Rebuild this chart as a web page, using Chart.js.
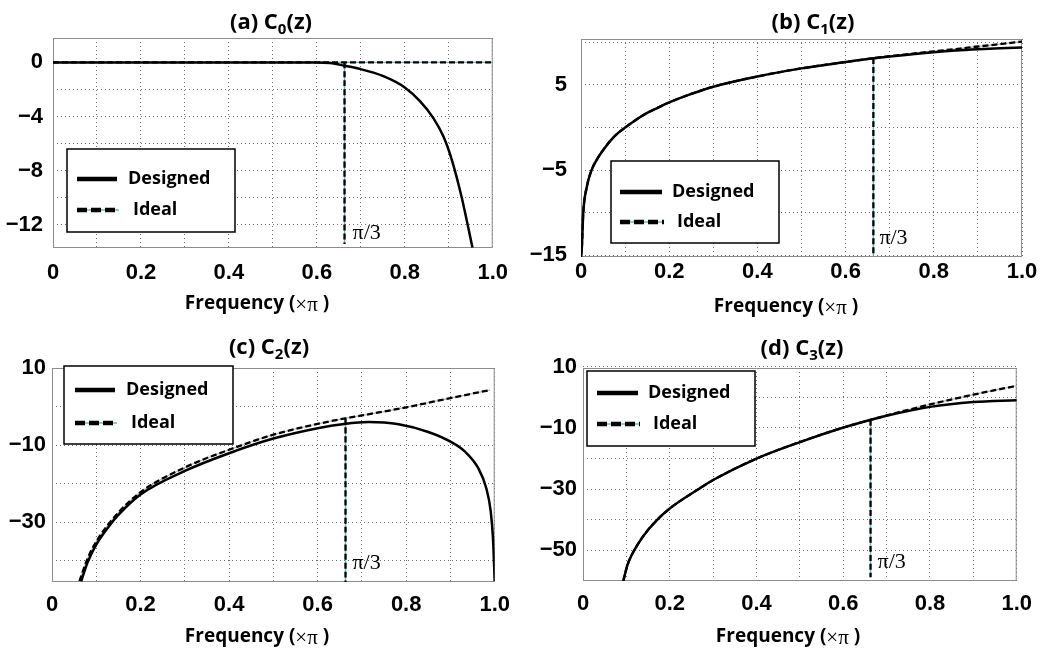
<!DOCTYPE html>
<html>
<head>
<meta charset="utf-8">
<script src="https://cdn.jsdelivr.net/npm/chart.js@4.4.1/dist/chart.umd.min.js"></script>
<style>
    html, body { margin: 0; padding: 0; background: #fff; }
    #wrap { position: relative; width: 1042px; height: 649px; }
    #wrap canvas { position: absolute; }
</style>
</head>
<body>
<div id="wrap">
    <canvas id="chartA" width="520" height="325" style="left:0;top:0"></canvas>
    <canvas id="chartB" width="522" height="325" style="left:520px;top:0"></canvas>
    <canvas id="chartC" width="520" height="324" style="left:0;top:325px"></canvas>
    <canvas id="chartD" width="522" height="324" style="left:520px;top:325px"></canvas>
</div>
<script>
// ---- data (frequency in units of pi) ----
const cutoff = 0.663;

// (a) C0(z)
const freqA = [0, 0.1, 0.2, 0.3, 0.4, 0.5, 0.6, 0.63, 0.664, 0.7, 0.75, 0.8, 0.835, 0.865, 0.888, 0.907, 0.929, 0.954];
const designedA = [0, 0, 0, 0, 0, 0, 0, -0.05, -0.25, -0.5, -1.0, -1.85, -2.88, -4.11, -5.47, -7.19, -9.9, -13.67];
const idealFreqA = [0, 1.0];
const idealA = [0, 0];
const cutLineA = [0, -13.4];

// (b) C1(z)
const freqB = [0, 0.002, 0.005, 0.013, 0.024, 0.039, 0.058, 0.07, 0.085, 0.1, 0.12, 0.149, 0.175, 0.2, 0.25, 0.3, 0.4, 0.5, 0.6, 0.664, 0.7, 0.8, 0.85, 0.9, 0.95, 1.0];
const designedB = [-15.2, -14.0, -10.1, -7.0, -5.0, -3.5, -2.1, -1.35, -0.6, 0, 0.75, 1.7, 2.35, 2.95, 3.95, 4.8, 6.0, 6.95, 7.7, 8.15, 8.35, 8.85, 9.05, 9.2, 9.32, 9.4];
const idealFreqB = [0, 0.002, 0.005, 0.013, 0.024, 0.039, 0.058, 0.07, 0.085, 0.1, 0.12, 0.149, 0.175, 0.2, 0.25, 0.3, 0.4, 0.5, 0.6, 0.664, 0.7, 0.8, 0.85, 0.9, 0.95, 1.0];
const idealB = [-15.2, -14.0, -10.1, -7.0, -5.0, -3.5, -2.1, -1.35, -0.6, 0, 0.75, 1.7, 2.35, 2.95, 3.95, 4.8, 6.0, 6.95, 7.7, 8.15, 8.38, 8.95, 9.22, 9.52, 9.8, 10.1];
const cutLineB = [8.15, -15];

// (c) C2(z)
const freqC = [0.066, 0.08, 0.101, 0.131, 0.15, 0.2, 0.3, 0.4, 0.5, 0.6, 0.66, 0.715, 0.783, 0.85, 0.9, 0.933, 0.963, 0.981, 0.991, 0.996, 1.0];
const designedC = [-45.3, -40.5, -35.6, -30.7, -28.1, -22.8, -16.7, -12.1, -8.3, -5.6, -4.5, -4.0, -4.6, -6.6, -9.1, -11.7, -16, -21.2, -27.2, -34, -45.3];
const idealFreqC = [0.062, 0.08, 0.1, 0.15, 0.2, 0.3, 0.4, 0.5, 0.6, 0.66, 0.7, 0.8, 0.9, 0.99];
const idealC = [-45.3, -39.5, -35, -27.5, -22.2, -15.8, -11.2, -7.3, -4.5, -3.1, -2.3, -0.2, 2.2, 4.3];
const cutLineC = [-3.1, -45.5];

// (d) C3(z)
const freqD = [0.093, 0.1, 0.105, 0.118, 0.14, 0.171, 0.2, 0.266, 0.3, 0.4, 0.5, 0.597, 0.664, 0.7, 0.8, 0.9, 1.0];
const designedD = [-60, -56, -53.8, -50, -45.1, -40, -36.3, -30, -27.0, -20, -14.6, -10, -7.3, -6.0, -3.1, -1.5, -0.9];
const idealFreqD = [0.093, 0.1, 0.105, 0.118, 0.14, 0.171, 0.2, 0.266, 0.3, 0.4, 0.5, 0.597, 0.664, 0.7, 0.8, 0.9, 1.0];
const idealD = [-60, -56, -53.8, -50, -45.1, -40, -36.3, -30, -27.0, -20, -14.6, -10, -7.3, -5.9, -2.3, 0.9, 3.8];
const cutLineD = [-7.3, -58.8];

// ---- ticks ----
const xGridTicks = [0, 0.1, 0.2, 0.3, 0.4, 0.5, 0.6, 0.7, 0.8, 0.9, 1.0];
const xTickLabels = { 0: '0', 0.2: '0.2', 0.4: '0.4', 0.6: '0.6', 0.8: '0.8', 1: '1.0' };

const yGridA = [-12, -10, -8, -6, -4, -2, 0];
const yLabelA = [-12, -8, -4, 0];
const yGridB = [-15, -10, -5, 0, 5, 10];
const yLabelB = [-15, -5, 5];
const yGridC = [-40, -30, -20, -10, 0, 10];
const yLabelC = [-30, -10, 10];
const yGridD = [-50, -40, -30, -20, -10, 0, 10];
const yLabelD = [-50, -30, -10, 10];

const gridColor = '#6e6e6e';
const frameColor = '#8c8c8c';
const teal = '#52c3b8';
const labelFont = '"Open Sans", "Noto Sans", sans-serif';
const serifFont = '"Liberation Serif", "DejaVu Serif", serif';
const tickFont = '"Liberation Sans", Arial, sans-serif';

function toPoints(xs, ys) {
    return xs.map((x, i) => ({ x: x, y: ys[i] }));
}

function fmtY(v) {
    return v < 0 ? '\u2212' + Math.abs(v) : String(v);
}

// draws [text, font, dy] pieces centred on x
function drawPieces(ctx, pieces, cx, cy) {
    let total = 0;
    pieces.forEach(pc => { ctx.font = pc[1]; total += ctx.measureText(pc[0]).width; });
    let x = cx - total / 2;
    ctx.textAlign = 'left';
    pieces.forEach(pc => {
        ctx.font = pc[1];
        ctx.fillText(pc[0], x, cy + (pc[2] || 0));
        x += ctx.measureText(pc[0]).width;
    });
}

// frame, titles, pi/3 label, boxed legend
const panelDeco = {
    id: 'panelDeco',
    beforeDatasetsDraw(chart) {
        const { ctx, chartArea: a } = chart;
        ctx.save();
        ctx.strokeStyle = frameColor;
        ctx.lineWidth = 1;
        ctx.strokeRect(a.left + 0.5, a.top + 0.5, a.right - a.left - 1, a.bottom - a.top - 1);
        ctx.restore();
    },
    afterDraw(chart, args, o) {
        const ctx = chart.ctx;
        ctx.save();
        ctx.fillStyle = '#000';
        ctx.textBaseline = 'middle';

        // title with subscript
        const bigF = 'bold 22px ' + labelFont;
        const subF = 'bold 15px ' + labelFont;
        drawPieces(ctx, [[o.title[0], bigF], [o.title[1], subF, 7], [o.title[2], bigF]], o.titleX, o.titleY);

        // x axis title
        const axF = 'bold 19px ' + labelFont;
        drawPieces(ctx, [['Frequency (', axF], ['\u00d7\u03c0', '21px ' + serifFont, 1], [' )', axF]], o.xTitleX, o.xTitleY);

        // pi/3 marker text
        ctx.font = '22px ' + serifFont;
        ctx.textAlign = 'left';
        ctx.fillText('\u03c0/3', chart.scales.x.getPixelForValue(cutoff) + o.piDx, o.piY);

        // legend box
        const L = o.legend;
        ctx.fillStyle = '#fff';
        ctx.fillRect(L.x, L.y, L.w, L.h);
        ctx.strokeStyle = '#000';
        ctx.lineWidth = 1.5;
        ctx.strokeRect(L.x, L.y, L.w, L.h);

        ctx.lineWidth = 4.5;
        ctx.beginPath();
        ctx.moveTo(L.x0, L.row1);
        ctx.lineTo(L.x1, L.row1);
        ctx.stroke();

        ctx.strokeStyle = teal;
        ctx.lineWidth = 1.5;
        ctx.beginPath();
        ctx.moveTo(L.x0, L.row2);
        ctx.lineTo(L.x1 + 2, L.row2);
        ctx.stroke();
        ctx.strokeStyle = '#000';
        ctx.lineWidth = 4.5;
        ctx.setLineDash([10, 4]);
        ctx.beginPath();
        ctx.moveTo(L.x0, L.row2);
        ctx.lineTo(L.x1 + 2, L.row2);
        ctx.stroke();
        ctx.setLineDash([]);

        ctx.fillStyle = '#000';
        ctx.font = 'bold 18px ' + labelFont;
        ctx.fillText('Designed', L.t1, L.row1);
        ctx.fillText('Ideal', L.t2, L.row2);
        ctx.restore();
    }
};

function buildPanel(canvasId, p) {
    const datasets = [
        {
            label: 'Ideal',
            data: toPoints(p.idealFreq, p.ideal),
            borderColor: '#000',
            borderWidth: 2.3,
            borderDash: [6, 3],
            order: 0
        },
        {
            label: 'Designed',
            data: toPoints(p.freq, p.designed),
            borderColor: '#000',
            borderWidth: 2.5,
            order: 1
        },
        {
            label: 'Ideal underlay',
            data: toPoints(p.idealFreq, p.ideal),
            borderColor: p.underColor,
            borderWidth: 1.2,
            order: 2
        },
        {
            label: 'Cutoff',
            data: toPoints([cutoff, cutoff], p.cutLine),
            borderColor: '#000',
            borderWidth: 2.3,
            borderDash: [6, 3],
            order: 3
        },
        {
            label: 'Cutoff underlay',
            data: toPoints([cutoff, cutoff], p.cutLine),
            borderColor: teal,
            borderWidth: 1.4,
            order: 4
        }
    ];

    return new Chart(document.getElementById(canvasId), {
        type: 'line',
        data: { datasets: datasets },
        options: {
            responsive: false,
            animation: false,
            devicePixelRatio: 1,
            layout: { padding: { left: 0, top: p.padTop, right: p.padRight, bottom: 0 } },
            elements: {
                point: { radius: 0 },
                line: { cubicInterpolationMode: 'monotone', fill: false }
            },
            plugins: {
                legend: { display: false },
                tooltip: { enabled: false },
                panelDeco: p.deco
            },
            scales: {
                x: {
                    type: 'linear',
                    min: 0,
                    max: 1,
                    afterBuildTicks: s => { s.ticks = xGridTicks.map(v => ({ value: v })); },
                    afterFit: s => { s.height = p.xH; },
                    grid: { color: gridColor, lineWidth: 1, drawTicks: false },
                    border: { display: false, dash: [1, 3] },
                    ticks: {
                        autoSkip: false,
                        maxRotation: 0,
                        padding: p.xPad,
                        color: '#000',
                        font: { family: tickFont, size: 22, weight: 'bold' },
                        callback: v => (v in xTickLabels ? xTickLabels[v] : '')
                    }
                },
                y: {
                    type: 'linear',
                    min: p.yMin,
                    max: p.yMax,
                    afterBuildTicks: s => { s.ticks = p.yGrid.map(v => ({ value: v })); },
                    afterFit: s => { s.width = p.yW; },
                    grid: { color: gridColor, lineWidth: 1, drawTicks: false },
                    border: { display: false, dash: [1, 3] },
                    ticks: {
                        autoSkip: false,
                        padding: p.yPad,
                        color: '#000',
                        font: { family: tickFont, size: 22, weight: 'bold' },
                        callback: v => (p.yLabels.includes(v) ? fmtY(v) : '')
                    }
                }
            }
        },
        plugins: [panelDeco]
    });
}

buildPanel('chartA', {
    freq: freqA, designed: designedA, idealFreq: idealFreqA, ideal: idealA, cutLine: cutLineA,
    underColor: teal,
    yMin: -13.7, yMax: 1.8, yGrid: yGridA, yLabels: yLabelA,
    padTop: 38, padRight: 27, yW: 53, xH: 77, xPad: 12, yPad: 10,
    deco: {
        title: ['(a) C', '0', '(z)'], titleX: 271, titleY: 23,
        xTitleX: 257, xTitleY: 304, piDx: 8, piY: 233,
        legend: { x: 67, y: 149, w: 168, h: 83, row1: 179, row2: 210, x0: 77, x1: 117, t1: 128, t2: 133 }
    }
});

buildPanel('chartB', {
    freq: freqB, designed: designedB, idealFreq: idealFreqB, ideal: idealB, cutLine: cutLineB,
    underColor: '#b5b5b5',
    yMin: -15.2, yMax: 10.4, yGrid: yGridB, yLabels: yLabelB,
    padTop: 39, padRight: 20, yW: 61, xH: 68, xPad: 2, yPad: 14,
    deco: {
        title: ['(b) C', '1', '(z)'], titleX: 293, titleY: 23,
        xTitleX: 266, xTitleY: 307, piDx: 6, piY: 238,
        legend: { x: 91, y: 161, w: 168, h: 82, row1: 192, row2: 222, x0: 100, x1: 142, t1: 152, t2: 157 }
    }
});

buildPanel('chartC', {
    freq: freqC, designed: designedC, idealFreq: idealFreqC, ideal: idealC, cutLine: cutLineC,
    underColor: '#b5b5b5',
    yMin: -45.5, yMax: 10, yGrid: yGridC, yLabels: yLabelC,
    padTop: 43, padRight: 23, yW: 52, xH: 67, xPad: 10, yPad: 6,
    deco: {
        title: ['(c) C', '2', '(z)'], titleX: 269, titleY: 23,
        xTitleX: 257, xTitleY: 312, piDx: 7, piY: 238,
        legend: { x: 64, y: 41, w: 169, h: 78, row1: 65, row2: 98, x0: 75, x1: 115, t1: 126, t2: 131 }
    }
});

buildPanel('chartD', {
    freq: freqD, designed: designedD, idealFreq: idealFreqD, ideal: idealD, cutLine: cutLineD,
    underColor: '#b5b5b5',
    yMin: -60, yMax: 9.6, yGrid: yGridD, yLabels: yLabelD,
    padTop: 43, padRight: 20, yW: 63, xH: 68, xPad: 10, yPad: 6,
    deco: {
        title: ['(d) C', '3', '(z)'], titleX: 282, titleY: 24,
        xTitleX: 268, xTitleY: 312, piDx: 7, piY: 237,
        legend: { x: 67, y: 46, w: 168, h: 75, row1: 68, row2: 99, x0: 77, x1: 118, t1: 128, t2: 133 }
    }
});
</script>
</body>
</html>
